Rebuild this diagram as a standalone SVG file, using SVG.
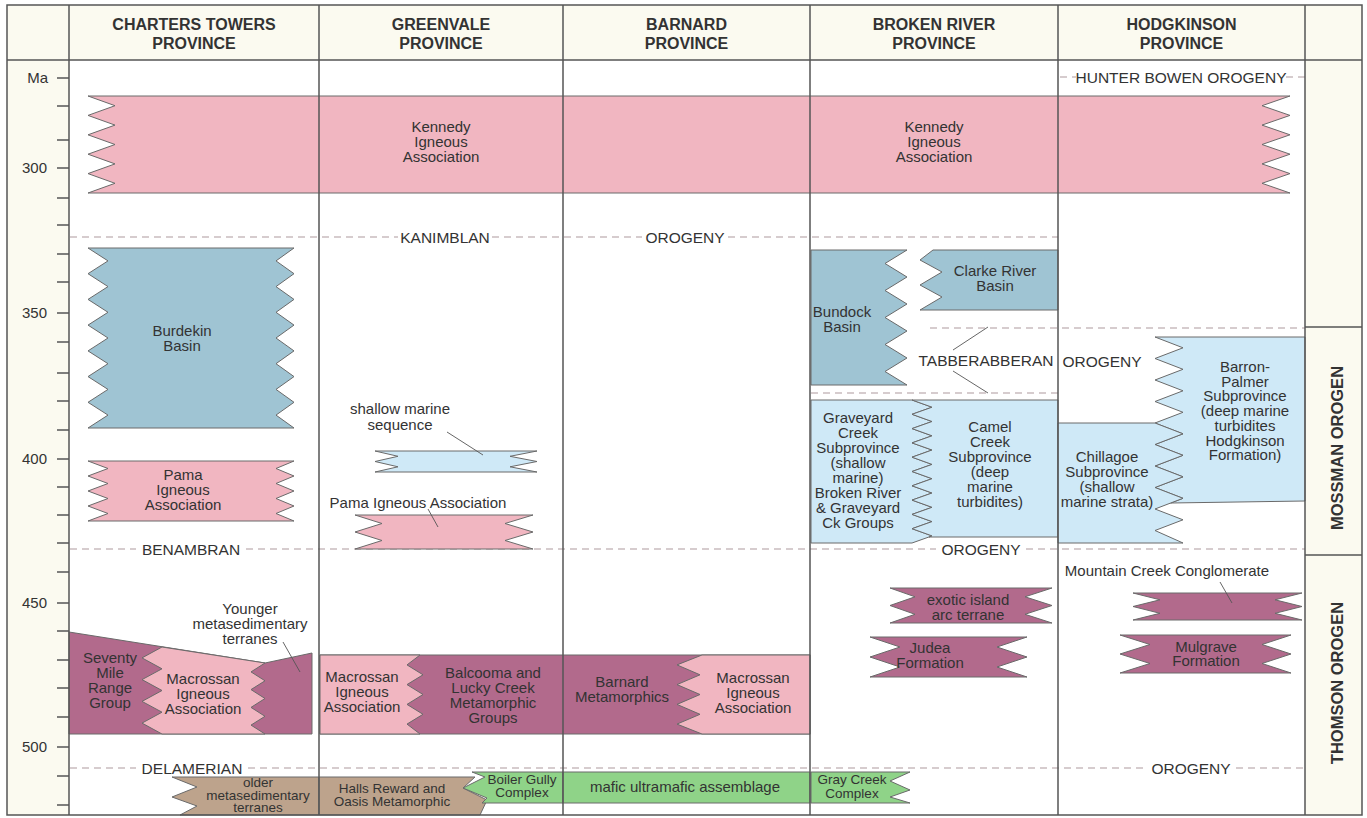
<svg xmlns="http://www.w3.org/2000/svg" width="1367" height="818" viewBox="0 0 1367 818">
<style>
.t{font-family:"Liberation Sans",Arial,sans-serif;font-size:15px;fill:#333;text-anchor:middle}
.s{font-family:"Liberation Sans",Arial,sans-serif;font-size:13.5px;fill:#333;text-anchor:middle}
.h{font-family:"Liberation Sans",Arial,sans-serif;font-size:16px;font-weight:bold;fill:#333;text-anchor:middle}
.o{font-family:"Liberation Sans",Arial,sans-serif;font-size:15.5px;fill:#333;text-anchor:middle}
.ax{font-family:"Liberation Sans",Arial,sans-serif;font-size:15px;fill:#333;text-anchor:end}
.r{font-family:"Liberation Sans",Arial,sans-serif;font-size:16.5px;font-weight:bold;fill:#333;text-anchor:middle}
.pink{fill:#f1b6c1;stroke:#6a6a6a;stroke-width:1}
.purple{fill:#b26a8c;stroke:#6a6a6a;stroke-width:1}
.basin{fill:#9fc4d3;stroke:#6a6a6a;stroke-width:1}
.sub{fill:#cfe9f7;stroke:#6a6a6a;stroke-width:1}
.tan{fill:#bda38c;stroke:#6a6a6a;stroke-width:1}
.green{fill:#8fd388;stroke:#6a6a6a;stroke-width:1}
.dash{stroke:#c9bcbf;stroke-width:1.6;stroke-dasharray:7 5;fill:none}
.grid{stroke:#555;stroke-width:1.5;fill:none}
.tick{stroke:#555;stroke-width:1.3;fill:none}
.lead{stroke:#555;stroke-width:0.9;fill:none}
</style>

<!-- backgrounds -->
<rect x="0" y="0" width="1367" height="818" fill="#fff"/>
<rect x="7" y="5" width="1355" height="55" fill="#fbfaf0"/>
<rect x="7" y="60" width="62" height="755" fill="#fbfaf0"/>
<rect x="1305" y="60" width="57" height="755" fill="#fbfaf0"/>

<!-- orogeny lines -->
<g id="orogenies">
  <path class="dash" d="M1060,77H1076M1286,77H1305"/>
  <path class="dash" d="M70,237H398M492,237H642M728,237H1058"/>
  <path class="dash" d="M930,328H1305M811,393H1058"/>
  <path class="dash" d="M70,549H136M246,549H936M1026,549H1305"/>
  <path class="dash" d="M70,768H136M248,768H1148M1236,768H1305"/>
  <text class="o" x="1181" y="82.5">HUNTER BOWEN OROGENY</text>
  <text class="o" x="445" y="242.5">KANIMBLAN</text>
  <text class="o" x="685" y="242.5">OROGENY</text>
  <text class="o" x="986" y="366">TABBERABBERAN</text>
  <text class="o" x="1102" y="367">OROGENY</text>
  <text class="o" x="191" y="554.5">BENAMBRAN</text>
  <text class="o" x="981" y="555">OROGENY</text>
  <text class="o" x="192" y="773.5">DELAMERIAN</text>
  <text class="o" x="1191" y="773.5">OROGENY</text>
</g>

<!-- Kennedy Igneous Association -->
<g id="kennedy">
  <polygon class="pink" points="88,96 1290,96 1262,105.7 1290,115.4 1262,125.1 1290,134.8 1262,144.5 1290,154.2 1262,163.9 1290,173.6 1262,183.3 1290,193 88,193 115,183.3 88,173.6 115,163.9 88,154.2 115,144.5 88,134.8 115,125.1 88,115.4 115,105.7"/>
</g>

<!-- Charters Towers units -->
<g id="burdekin-basin">
  <polygon class="basin" points="88,248 294,248 276,260.9 294,273.7 276,286.6 294,299.4 276,312.3 294,325.1 276,338 294,350.9 276,363.7 294,376.6 276,389.4 294,402.3 276,415.1 294,428 88,428 108,415.1 88,402.3 108,389.4 88,376.6 108,363.7 88,350.9 108,338 88,325.1 108,312.3 88,299.4 108,286.6 88,273.7 108,260.9"/>
  <text class="t" x="182" y="336">Burdekin<tspan x="182" dy="15">Basin</tspan></text>
</g>
<g id="pama-charters">
  <polygon class="pink" points="88,461 294,461 276,468.5 294,476 276,483.5 294,491 276,498.5 294,506 276,513.5 294,521 88,521 108,513.5 88,506 108,498.5 88,491 108,483.5 88,476 108,468.5"/>
  <text class="t" x="183" y="480">Pama<tspan x="183" dy="15">Igneous</tspan><tspan x="183" dy="15">Association</tspan></text>
</g>
<g id="seventy-mile">
  <polygon class="purple" points="69,632 265,663 312,653 312,734 69,734"/>
  <text class="t" x="110" y="663">Seventy<tspan x="110" dy="15">Mile</tspan><tspan x="110" dy="15">Range</tspan><tspan x="110" dy="15">Group</tspan></text>
</g>
<g id="macrossan-charters">
  <polygon class="pink" points="162,647 265,663 251,671.9 265,680.8 251,689.6 265,698.5 251,707.4 265,716.3 251,725.1 265,734 162,734 142,723.1 162,712.2 142,701.4 162,690.5 142,679.6 162,668.8 142,657.9"/>
  <text class="t" x="203" y="684">Macrossan<tspan x="203" dy="15">Igneous</tspan><tspan x="203" dy="15">Association</tspan></text>
</g>
<g id="younger-metasediments">
  <text class="t" x="250" y="614">Younger<tspan x="250" dy="15">metasedimentary</tspan><tspan x="250" dy="15">terranes</tspan></text>
</g>
<g id="older-metasediments">
  <polygon class="tan" points="172,777 319,777 319,815 180,815 197,806 172,797 197,787"/>
  <text class="s" x="258" y="787">older<tspan x="258" dy="12.5">metasedimentary</tspan><tspan x="258" dy="12.5">terranes</tspan></text>
</g>

<!-- Greenvale units -->
<g id="shallow-marine">
  <polygon class="sub" points="375,451 537,451 510,456.3 537,461.5 510,466.8 537,472 375,472 398,466.8 375,461.5 398,456.3"/>
  <text class="t" x="400" y="414">shallow marine<tspan x="400" dy="15.5">sequence</tspan></text>
</g>
<g id="pama-greenvale">
  <polygon class="pink" points="355,515 533,515 505,523.5 533,532 505,540.5 533,549 355,549 382,540.5 355,532 382,523.5"/>
  <text class="t" x="418" y="507.5">Pama Igneous Association</text>
</g>
<g id="balcooma-barnard">
  <rect class="purple" x="320" y="655" width="490" height="79"/>
  <text class="t" x="493" y="678">Balcooma and<tspan x="493" dy="15">Lucky Creek</tspan><tspan x="493" dy="15">Metamorphic</tspan><tspan x="493" dy="15">Groups</tspan></text>
  <text class="t" x="622" y="687">Barnard<tspan x="622" dy="15">Metamorphics</tspan></text>
</g>
<g id="macrossan-greenvale">
  <polygon class="pink" points="320,655 420,655 407,664.9 423,674.8 407,684.6 423,694.5 407,704.4 423,714.3 407,724.1 420,734 320,734"/>
  <text class="t" x="362" y="682">Macrossan<tspan x="362" dy="15">Igneous</tspan><tspan x="362" dy="15">Association</tspan></text>
</g>
<g id="macrossan-barnard">
  <polygon class="pink" points="702,655 810,655 810,734 702,734 677,724.1 700,714.3 677,704.4 700,694.5 677,684.6 700,674.8 677,664.9"/>
  <text class="t" x="753" y="683">Macrossan<tspan x="753" dy="15">Igneous</tspan><tspan x="753" dy="15">Association</tspan></text>
</g>
<g id="halls-reward">
  <polygon class="tan" points="319,777 475,777 463,788 487,800 480,815 319,815"/>
  <text class="s" x="392" y="793">Halls Reward and<tspan x="392" dy="13">Oasis Metamorphic</tspan></text>
</g>
<g id="boiler-gully">
  <polygon class="green" points="472,772 563,772 563,803 482,803 487,798 463,788 485,777"/>
  <text class="s" x="522" y="784">Boiler Gully<tspan x="522" dy="13">Complex</tspan></text>
</g>
<g id="mafic-ultramafic">
  <rect class="green" x="563" y="772" width="247" height="31"/>
  <text class="t" x="685" y="792">mafic ultramafic assemblage</text>
</g>

<!-- Broken River units -->
<g id="bundock-basin">
  <polygon class="basin" points="811,250 907,250 885,263.5 907,277 885,290.5 907,304 885,317.5 907,331 885,344.5 907,358 885,371.5 907,385 811,385"/>
  <text class="t" x="842" y="317">Bundock<tspan x="842" dy="15">Basin</tspan></text>
</g>
<g id="clarke-river-basin">
  <polygon class="basin" points="933,250 1058,250 1058,310 920,310 942,297 920,285 942,272 920,260"/>
  <text class="t" x="995" y="276">Clarke River<tspan x="995" dy="15">Basin</tspan></text>
</g>
<g id="graveyard-creek">
  <polygon class="sub" points="811,400 912,400 932,407.2 912,414.3 932,421.5 912,428.6 932,435.8 912,442.9 932,450 912,457.2 932,464.4 912,471.5 932,478.7 912,485.8 932,493 912,500.1 932,507.3 912,514.4 932,521.6 912,528.7 932,535.9 912,543 811,543"/>
  <text class="t" x="858" y="423">Graveyard<tspan x="858" dy="15">Creek</tspan><tspan x="858" dy="15">Subprovince</tspan><tspan x="858" dy="15">(shallow</tspan><tspan x="858" dy="15">marine)</tspan><tspan x="858" dy="15">Broken River</tspan><tspan x="858" dy="15">&amp; Graveyard</tspan><tspan x="858" dy="15">Ck Groups</tspan></text>
</g>
<g id="camel-creek">
  <polygon class="sub" points="912,400 1058,400 1058,537 929,537 932,535.9 912,528.7 932,521.6 912,514.4 932,507.3 912,500.1 932,493 912,485.8 932,478.7 912,471.5 932,464.4 912,457.2 932,450 912,442.9 932,435.8 912,428.6 932,421.5 912,414.3 932,407.2"/>
  <text class="t" x="990" y="432">Camel<tspan x="990" dy="15">Creek</tspan><tspan x="990" dy="15">Subprovince</tspan><tspan x="990" dy="15">(deep</tspan><tspan x="990" dy="15">marine</tspan><tspan x="990" dy="15">turbidites)</tspan></text>
</g>
<g id="exotic-arc">
  <polygon class="purple" points="890,588 1052,588 1025,596.8 1052,605.5 1025,614.3 1052,623 890,623 915,614.3 890,605.5 915,596.8"/>
  <text class="t" x="968" y="604.5">exotic island<tspan x="968" dy="15">arc terrane</tspan></text>
</g>
<g id="judea-formation">
  <polygon class="purple" points="870,637 1027,637 997,647 1027,657 997,667 1027,677 870,677 900,667 870,657 900,647"/>
  <text class="t" x="930" y="653">Judea<tspan x="930" dy="15">Formation</tspan></text>
</g>
<g id="gray-creek">
  <polygon class="green" points="811,772 910,772 890,781 910,790 890,797 910,803 811,803"/>
  <text class="s" x="852" y="784">Gray Creek<tspan x="852" dy="14">Complex</tspan></text>
</g>

<!-- Hodgkinson units -->
<g id="barron-palmer">
  <polygon class="sub" points="1155,337 1305,337 1305,501 1170.6,503 1183,498.3 1155,487.5 1183,476.8 1155,466 1183,455.3 1155,444.5 1183,433.8 1155,423 1183,412.3 1155,401.5 1183,390.8 1155,380 1183,369.3 1155,358.5 1183,347.8"/>
  <text class="t" x="1245" y="372">Barron-<tspan x="1245" dy="14.7">Palmer</tspan><tspan x="1245" dy="14.7">Subprovince</tspan><tspan x="1245" dy="14.7">(deep marine</tspan><tspan x="1245" dy="14.7">turbidites</tspan><tspan x="1245" dy="14.7">Hodgkinson</tspan><tspan x="1245" dy="14.7">Formation)</tspan></text>
</g>
<g id="chillagoe">
  <polygon class="sub" points="1058,423 1155,423 1183,433.8 1155,444.5 1183,455.3 1155,466 1183,476.8 1155,487.5 1183,498.3 1155,509 1183,519.8 1155,530.5 1183,543 1058,543"/>
  <text class="t" x="1107" y="462">Chillagoe<tspan x="1107" dy="15">Subprovince</tspan><tspan x="1107" dy="15">(shallow</tspan><tspan x="1107" dy="15">marine strata)</tspan></text>
</g>
<g id="mountain-creek">
  <polygon class="purple" points="1133,593 1302,593 1275,599.8 1302,606.5 1275,613.3 1302,620 1133,620 1160,613.3 1133,606.5 1160,599.8"/>
  <text class="t" x="1167" y="576">Mountain Creek Conglomerate</text>
</g>
<g id="mulgrave">
  <polygon class="purple" points="1120,635 1291,635 1262,644.5 1291,654 1262,663.5 1291,673 1120,673 1150,663.5 1120,654 1150,644.5"/>
  <text class="t" x="1206" y="651.5">Mulgrave<tspan x="1206" dy="14.5">Formation</tspan></text>
</g>

<!-- Kennedy labels above the band -->
<g id="kennedy-labels">
  <text class="t" x="441" y="132">Kennedy<tspan x="441" dy="15">Igneous</tspan><tspan x="441" dy="15">Association</tspan></text>
  <text class="t" x="934" y="132">Kennedy<tspan x="934" dy="15">Igneous</tspan><tspan x="934" dy="15">Association</tspan></text>
</g>

<!-- label leaders -->
<g id="connectors">
  <line class="lead" x1="447" y1="432" x2="483" y2="455"/>
  <line class="lead" x1="428" y1="509" x2="438" y2="527"/>
  <line class="lead" x1="953" y1="350" x2="988" y2="327"/>
  <line class="lead" x1="953" y1="371" x2="988" y2="393"/>
  <line class="lead" x1="283" y1="642" x2="300" y2="672"/>
  <line class="lead" x1="1220" y1="582" x2="1232" y2="603"/>
</g>

<!-- frame and columns -->
<g id="frame">
  <rect class="grid" x="7" y="5" width="1355" height="810"/>
  <path class="grid" d="M7,60H1362M69,5V815M319,5V815M563,5V815M810,5V815M1058,5V815M1305,5V815M1305,327H1362M1305,555H1362"/>
</g>

<!-- headers -->
<g id="headers">
  <text class="h" x="194" y="30">CHARTERS TOWERS<tspan x="194" dy="19">PROVINCE</tspan></text>
  <text class="h" x="441" y="30">GREENVALE<tspan x="441" dy="19">PROVINCE</tspan></text>
  <text class="h" x="686.5" y="30">BARNARD<tspan x="686.5" dy="19">PROVINCE</tspan></text>
  <text class="h" x="934" y="30">BROKEN RIVER<tspan x="934" dy="19">PROVINCE</tspan></text>
  <text class="h" x="1181.5" y="30">HODGKINSON<tspan x="1181.5" dy="19">PROVINCE</tspan></text>
</g>

<!-- orogen column -->
<g id="orogens">
  <text class="r" transform="translate(1343,448) rotate(-90)">MOSSMAN OROGEN</text>
  <text class="r" transform="translate(1343,683) rotate(-90)">THOMSON OROGEN</text>
</g>

<!-- age axis -->
<g id="axis">
  <path class="tick" d="M57,78H69M57,106H69M57,140H69M57,168H69M57,198H69M57,225H69M57,254H69M57,282H69M57,313H69M57,342H69M57,373H69M57,401H69M57,430H69M57,459H69M57,487H69M57,515H69M57,543H69M57,572H69M57,603H69M57,631H69M57,660H69M57,688H69M57,717H69M57,747H69M57,776H69M57,805H69"/>
  <text class="ax" x="48" y="83">Ma</text>
  <text class="ax" x="47" y="173">300</text>
  <text class="ax" x="47" y="318">350</text>
  <text class="ax" x="47" y="464">400</text>
  <text class="ax" x="47" y="608">450</text>
  <text class="ax" x="47" y="752">500</text>
</g>
</svg>
